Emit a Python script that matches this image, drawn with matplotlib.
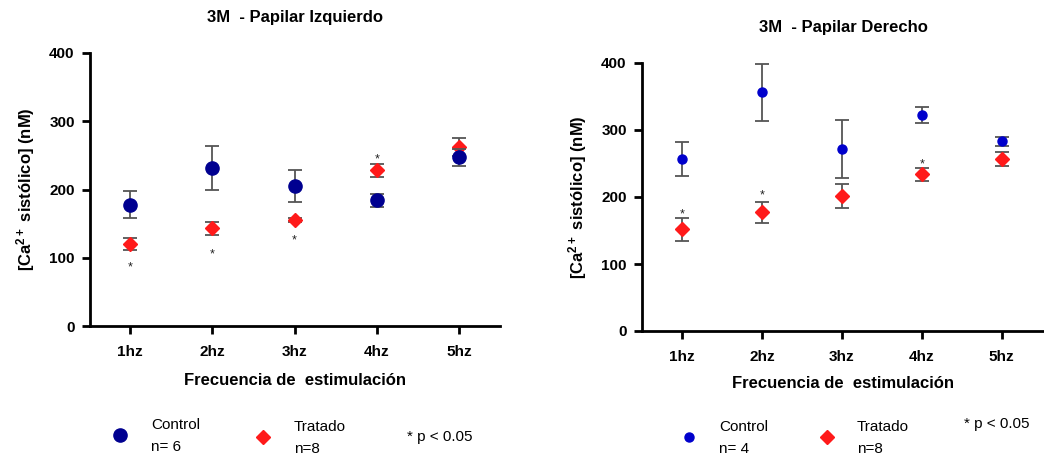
import numpy as np
import matplotlib
matplotlib.use("Agg")
import matplotlib.pyplot as plt

plt.rcParams['font.family'] = ['Liberation Sans', 'DejaVu Sans']
plt.rcParams['mathtext.fontset'] = 'custom'
plt.rcParams['mathtext.rm'] = 'Liberation Sans:bold'
plt.rcParams['mathtext.bf'] = 'Liberation Sans:bold'
plt.rcParams['mathtext.default'] = 'bf'

freqs = ["1hz", "2hz", "3hz", "4hz", "5hz"]

# Papilar izquierdo
izq_control = [178, 232, 205, 184, 247]
izq_control_err = [20, 32, 23, 10, 13]
izq_tratado = [120, 143, 155, 228, 262]
izq_tratado_err = [9, 10, 3, 10, 13]
izq_star_x = [1, 2, 3, 4]
izq_star_y = [86, 105, 126, 244]

# Papilar derecho
der_control = [257, 356, 272, 322, 283]
der_control_err = [25, 43, 43, 12, 7]
der_tratado = [152, 177, 202, 234, 257]
der_tratado_err = [17, 16, 18, 10, 10]
der_star_x = [1, 2, 4]
der_star_y = [174, 202, 248]

W, H = 1044, 458
fig = plt.figure(figsize=(W / 100, H / 100), dpi=100)


def px_axes(x0, y0, x1, y1):
    return fig.add_axes([x0 / W, 1 - y1 / H, (x1 - x0) / W, (y1 - y0) / H])


def panel(ax, ctl, ctl_err, trt, trt_err, sx, sy, title, ctl_color, ctl_ms, xlim, xlab_pad):
    x = np.arange(1, len(freqs) + 1)
    ax.errorbar(x, trt, yerr=trt_err, fmt='D', color='#ff1a1a', ms=7,
                ecolor='#555555', elinewidth=1.3, capsize=5, capthick=1.3, zorder=3)
    ax.errorbar(x, ctl, yerr=ctl_err, fmt='o', color=ctl_color, ms=ctl_ms,
                ecolor='#555555', elinewidth=1.3, capsize=5, capthick=1.3, zorder=4)
    for a, b in zip(sx, sy):
        ax.text(a, b, "*", ha='center', va='center', fontsize=9, color='#222222')
    ax.set_xlim(*xlim)
    ax.set_ylim(0, 400)
    ax.set_yticks([0, 100, 200, 300, 400])
    ax.set_xticks(x)
    ax.set_xticklabels(freqs, fontweight='bold', fontsize=11)
    for lab in ax.get_yticklabels():
        lab.set_fontweight('bold')
        lab.set_fontsize(11)
    ax.spines['top'].set_visible(False)
    ax.spines['right'].set_visible(False)
    for s in ('left', 'bottom'):
        ax.spines[s].set_linewidth(2)
    ax.tick_params(axis='y', width=2, length=6, pad=5)
    ax.tick_params(axis='x', width=2, length=6, pad=8)
    ax.set_xlabel("Frecuencia de  estimulación", fontweight='bold', fontsize=12, labelpad=xlab_pad)
    ax.set_ylabel("[Ca$^{2+}$ sistólico] (nM)", fontweight='bold', fontsize=12, labelpad=9)
    ax.set_title(title, fontweight='bold', fontsize=12, pad=22)


ax1 = px_axes(90, 53, 500, 326)
panel(ax1, izq_control, izq_control_err, izq_tratado, izq_tratado_err,
      izq_star_x, izq_star_y, "3M  - Papilar Izquierdo", '#000090', 9.5, (0.512, 5.5), 10)

ax2 = px_axes(642, 63, 1044, 331)
panel(ax2, der_control, der_control_err, der_tratado, der_tratado_err,
      der_star_x, der_star_y, "3M  - Papilar Derecho", '#0000cc', 6.5, (0.5, 5.53), 8)


def legend_item(mx, my, marker, color, ms, tx, label, n):
    fig.lines.append(plt.Line2D([mx / W], [1 - my / H], marker=marker, color=color,
                                ms=ms, linestyle='none', transform=fig.transFigure))
    fig.text(tx / W, 1 - (my - 10) / H, label, fontsize=11, va='center')
    fig.text(tx / W, 1 - (my + 12) / H, n, fontsize=11, va='center')


legend_item(120, 435, 'o', '#000090', 9.5, 151, "Control", "n= 6")
legend_item(263, 437, 'D', '#ff1a1a', 7, 294, "Tratado", "n=8")
fig.text(407 / W, 1 - 437 / H, "* p < 0.05", fontsize=11, va='center')

legend_item(689, 437, 'o', '#0000cc', 6.5, 719, "Control", "n= 4")
legend_item(827, 437, 'D', '#ff1a1a', 7, 857, "Tratado", "n=8")
fig.text(964 / W, 1 - 424 / H, "* p < 0.05", fontsize=11, va='center')

fig.savefig("out.png", dpi=100)
